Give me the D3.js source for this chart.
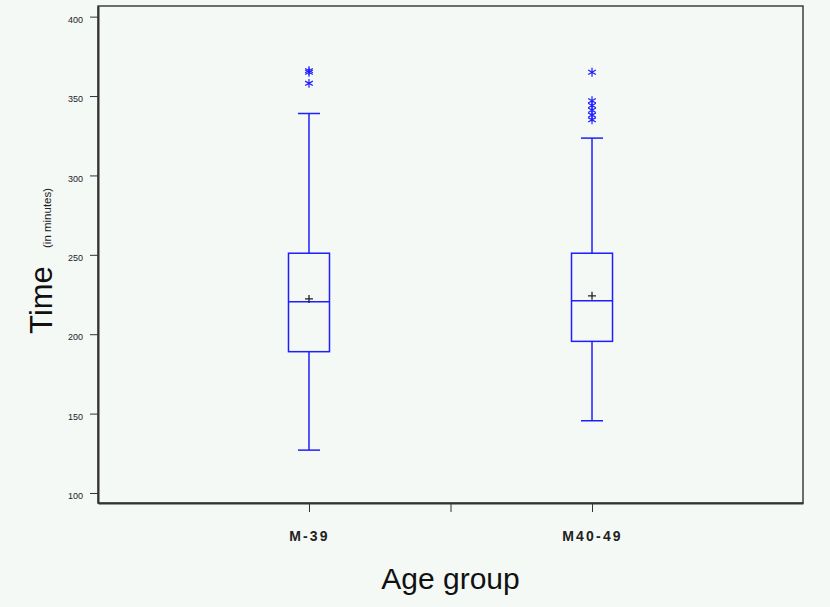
<!DOCTYPE html>
<html>
<head>
<meta charset="utf-8">
<script src="https://cdn.jsdelivr.net/npm/d3@7"></script>
<style>
  body { margin: 0; background: #f5f9f6; }
  svg { display: block; }
  .axis text { font-family: "Liberation Sans", Arial, sans-serif; fill: #222; }
  .axis path, .axis line { stroke: #333; }
</style>
</head>
<body>
<svg class="boxplot" width="830" height="607"></svg>
<script>
// age groups and box statistics (minutes)
var groups = ['M-39', 'M40-49'];
var lowWhisker = [127, 145.5];
var q1 = [189, 195.5];
var median = [220.5, 221];
var mean = [222.2, 224.2];
var q3 = [251, 251];
var highWhisker = [339, 323.5];
var outliers = [
    [358, 365, 366],
    [335, 338, 341, 344, 347, 365]
];
var yTicks = [100, 150, 200, 250, 300, 350, 400];

(function () {
    var svg = d3.select("svg.boxplot");
    var plot = { left: 98, right: 803, top: 6, bottom: 503 };
    var blue = "#1e1eff";

    // category positions: 1 and 2 on a linear scale, middle tick at 1.5
    var x = d3.scaleLinear().domain([0.2545, 2.7455]).range([plot.left, plot.right]);
    var y = d3.scaleLinear().domain([93.7, 406.7]).range([plot.bottom, plot.top]);

    svg.append("rect")
        .attr("x", plot.left).attr("y", plot.top)
        .attr("width", plot.right - plot.left).attr("height", plot.bottom - plot.top)
        .attr("fill", "none")
        .attr("stroke", "#222")
        .attr("stroke-width", 1.3);

    svg.append("g")
        .attr("class", "axis")
        .attr("transform", "translate(" + plot.left + ",0)")
        .call(d3.axisLeft(y).tickValues(yTicks).tickSize(8).tickPadding(7).tickSizeOuter(0))
        .call(function (g) {
            g.select(".domain").attr("stroke", "#555").attr("stroke-width", 2);
            g.selectAll("text").attr("font-size", 9).attr("dy", "0.62em");
        });

    svg.append("g")
        .attr("class", "axis")
        .attr("transform", "translate(0," + plot.bottom + ")")
        .call(d3.axisBottom(x).tickValues([1, 1.5, 2]).tickSize(9).tickPadding(19).tickSizeOuter(0)
            .tickFormat(function (d) { return d === 1.5 ? "" : groups[d - 1]; }))
        .call(function (g) {
            g.select(".domain").attr("stroke", "#555").attr("stroke-width", 2);
            g.selectAll("text")
                .attr("font-family", "'DejaVu Sans Mono', monospace")
                .attr("font-weight", "bold")
                .attr("font-size", 14)
                .attr("letter-spacing", 2.2)
                .attr("fill", "#222");
        });

    var boxW = 41, capW = 22;

    var box = svg.append("g")
        .selectAll("g")
        .data(groups)
        .enter().append("g")
        .attr("transform", function (d, i) { return "translate(" + x(i + 1) + ",0)"; });

    box.append("line")
        .attr("y1", function (d, i) { return y(lowWhisker[i]); })
        .attr("y2", function (d, i) { return y(q1[i]); })
        .attr("stroke", blue).attr("stroke-width", 1.5);

    box.append("line")
        .attr("y1", function (d, i) { return y(q3[i]); })
        .attr("y2", function (d, i) { return y(highWhisker[i]); })
        .attr("stroke", blue).attr("stroke-width", 1.5);

    box.append("line")
        .attr("x1", -capW / 2).attr("x2", capW / 2)
        .attr("y1", function (d, i) { return y(lowWhisker[i]); })
        .attr("y2", function (d, i) { return y(lowWhisker[i]); })
        .attr("stroke", blue).attr("stroke-width", 1.5);

    box.append("line")
        .attr("x1", -capW / 2).attr("x2", capW / 2)
        .attr("y1", function (d, i) { return y(highWhisker[i]); })
        .attr("y2", function (d, i) { return y(highWhisker[i]); })
        .attr("stroke", blue).attr("stroke-width", 1.5);

    box.append("rect")
        .attr("x", -boxW / 2)
        .attr("width", boxW)
        .attr("y", function (d, i) { return y(q3[i]); })
        .attr("height", function (d, i) { return y(q1[i]) - y(q3[i]); })
        .attr("fill", "none")
        .attr("stroke", blue).attr("stroke-width", 1.5);

    box.append("line")
        .attr("x1", -boxW / 2).attr("x2", boxW / 2)
        .attr("y1", function (d, i) { return y(median[i]); })
        .attr("y2", function (d, i) { return y(median[i]); })
        .attr("stroke", blue).attr("stroke-width", 1.5);

    box.append("path")
        .attr("d", function (d, i) {
            var m = y(mean[i]);
            return "M-4," + m + "H4M0," + (m - 4) + "V" + (m + 4);
        })
        .attr("stroke", "#222").attr("stroke-width", 1.3).attr("fill", "none");

    var star = d3.symbol().type(d3.symbolAsterisk).size(55);

    box.selectAll("path.outlier")
        .data(function (d, i) { return outliers[i]; })
        .enter().append("path")
        .attr("class", "outlier")
        .attr("d", star)
        .attr("transform", function (v) { return "translate(0," + y(v) + ")"; })
        .attr("fill", "none")
        .attr("stroke", blue)
        .attr("stroke-width", 1.2);

    // axis titles
    svg.append("text")
        .attr("transform", "translate(52,300) rotate(-90)")
        .attr("text-anchor", "middle")
        .attr("font-family", "'Liberation Sans', Arial, sans-serif")
        .attr("font-size", 31)
        .attr("fill", "#111")
        .text("Time");

    svg.append("text")
        .attr("transform", "translate(51,248) rotate(-90)")
        .attr("text-anchor", "start")
        .attr("font-family", "'Liberation Sans', Arial, sans-serif")
        .attr("font-size", 11.5)
        .attr("fill", "#222")
        .text("(in minutes)");

    svg.append("text")
        .attr("x", (x(1) + x(2)) / 2)
        .attr("y", 589)
        .attr("text-anchor", "middle")
        .attr("font-family", "'Liberation Sans', Arial, sans-serif")
        .attr("font-size", 30)
        .attr("fill", "#111")
        .text("Age group");
})();
</script>
</body>
</html>
